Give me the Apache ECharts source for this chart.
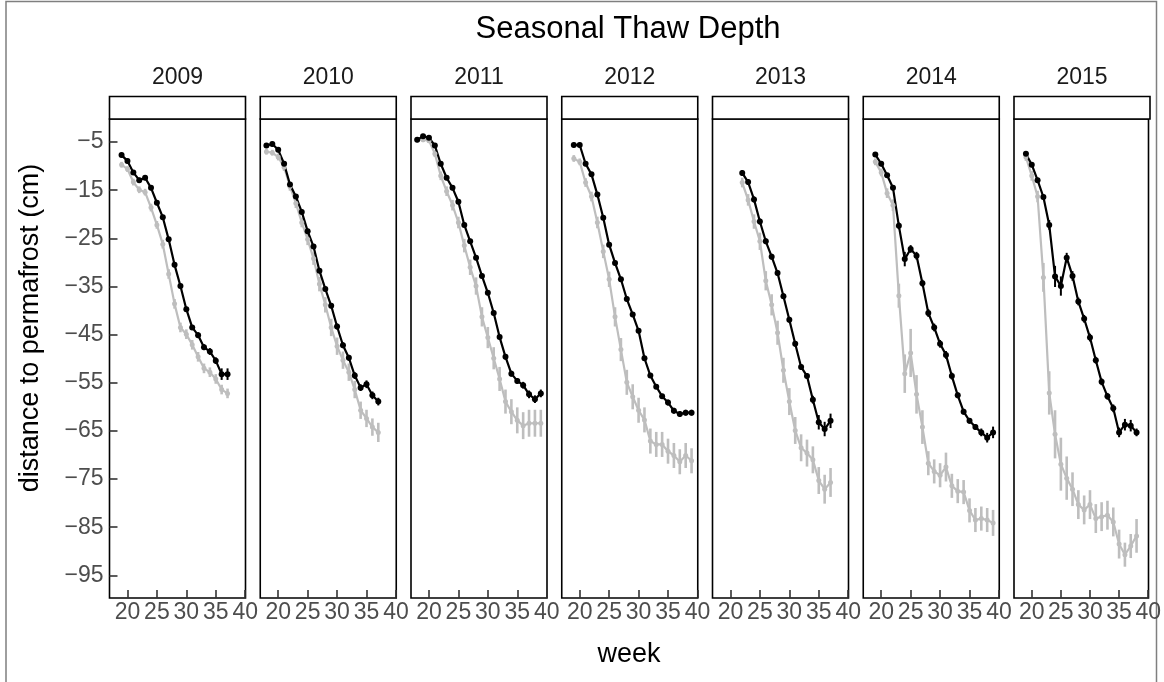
<!DOCTYPE html>
<html><head><meta charset="utf-8">
<script src="https://cdn.jsdelivr.net/npm/echarts@6/dist/echarts.min.js"></script>
<style>html,body{margin:0;padding:0;background:#fff}#c{width:1164px;height:682px}</style>
</head><body><div id="c"></div>
<script>
// ---- data ----
const years = ['2009', '2010', '2011', '2012', '2013', '2014', '2015'];
const xTicks = [20, 25, 30, 35, 40];
const yTicks = [-95, -85, -75, -65, -55, -45, -35, -25, -15, -5];

const weeks2009 = [19,20,21,22,23,24,25,26,27,28,29,30,31,32,33,34,35,36,37];
const black2009 = [-7.7,-8.9,-11.3,-12.9,-12.4,-14.5,-17.6,-20.6,-25.2,-30.5,-34.9,-39.7,-43.5,-45.1,-47.6,-48.5,-50.4,-53.2,-53.2];
const grey2009  = [-9.7,-10.6,-13.3,-14.9,-15.4,-18.6,-22.2,-26.2,-32.4,-38.6,-43.5,-44.9,-47.1,-49.6,-52.0,-52.8,-54.2,-56.4,-57.2];
const blackErr2009 = [0.5,0.5,0.5,0.5,0.5,0.5,0.5,0.5,0.5,0.5,0.5,0.5,0.5,0.6,0.6,0.7,0.7,1.2,1.2];
const greyErr2009  = [0.6,0.6,0.7,0.7,0.7,0.8,0.8,0.9,1,1,1,1,1,1,1,1,1,1,1];

const weeks2010 = [18,19,20,21,22,23,24,25,26,27,28,29,30,31,32,33,34,35,36,37];
const black2010 = [-5.7,-5.4,-6.6,-9.5,-13.8,-16.3,-19.5,-23.5,-26.7,-31.7,-35.5,-39.0,-43.3,-47.2,-49.8,-53.5,-56.0,-55.3,-57.6,-58.9];
const grey2010  = [-7.0,-7.2,-8.1,-10.2,-14.2,-17.7,-21.7,-25.2,-29.2,-34.5,-38.8,-43.5,-47.4,-50.3,-52.8,-56.4,-60.7,-62.4,-64.2,-65.3];
const blackErr2010 = [0.5,0.5,0.5,0.5,0.5,0.5,0.5,0.5,0.5,0.5,0.5,0.5,0.6,0.6,0.6,0.7,0.7,0.8,0.8,0.8];
const greyErr2010  = [0.6,0.6,0.7,0.8,0.9,1,1,1.2,1.3,1.5,1.6,1.8,1.8,1.8,1.8,1.8,1.8,1.8,1.8,2.0];

const weeks2011 = [18,19,20,21,22,23,24,25,26,27,28,29,30,31,32,33,34,35,36,37,38,39];
const black2011 = [-4.5,-3.8,-4.1,-5.7,-9.5,-12.4,-14.5,-17.4,-22.2,-25.6,-29.0,-32.8,-36.3,-40.5,-45.5,-49.6,-53.1,-54.6,-55.5,-57.4,-58.4,-57.2];
const grey2011  = [-4.5,-4.5,-4.7,-7.4,-12.0,-15.2,-18.1,-21.7,-26.5,-31.0,-34.9,-41.3,-45.6,-49.9,-54.2,-58.9,-61.0,-62.8,-63.9,-63.4,-63.4,-63.4];
const blackErr2011 = [0.5,0.5,0.5,0.5,0.5,0.5,0.5,0.5,0.5,0.5,0.5,0.5,0.5,0.5,0.5,0.6,0.6,0.6,0.7,0.8,0.8,0.8];
const greyErr2011  = [0.5,0.5,0.5,0.7,0.9,1,1.1,1.2,1.4,1.6,1.8,2,2.2,2.3,2.5,2.5,2.6,2.7,2.8,2.8,2.8,2.8];

const weeks2012 = [19,20,21,22,23,24,25,26,27,28,29,30,31,32,33,34,35,36,37,38,39];
const black2012 = [-5.6,-5.6,-9.5,-11.7,-15.9,-20.7,-26.3,-30.1,-33.5,-37.6,-40.8,-44.2,-49.9,-53.5,-55.8,-57.8,-59.1,-60.8,-61.5,-61.2,-61.2];
const grey2012  = [-8.4,-9.1,-13.4,-16.3,-21.7,-27.7,-33.5,-41.3,-48.1,-54.9,-57.9,-60.7,-62.7,-67.1,-67.8,-67.8,-69.2,-70.1,-71.4,-70.1,-71.2];
const blackErr2012 = [0.5,0.5,0.5,0.5,0.5,0.5,0.5,0.5,0.5,0.5,0.5,0.5,0.5,0.5,0.5,0.5,0.6,0.6,0.6,0.6,0.6];
const greyErr2012  = [0.7,0.7,0.9,1,1.2,1.4,1.6,2,2.4,2.6,2.6,2.6,2.6,2.6,2.6,2.6,2.6,2.6,2.6,2.6,2.6];

const weeks2013 = [22,23,24,25,26,27,28,29,30,31,32,33,34,35,36,37];
const black2013 = [-11.4,-13.3,-16.9,-21.5,-25.6,-28.8,-32.2,-37.0,-41.9,-46.9,-51.7,-53.6,-58.5,-63.2,-64.6,-62.9];
const grey2013  = [-13.4,-17.0,-21.5,-25.6,-33.8,-38.8,-44.6,-52.4,-58.9,-64.9,-68.5,-69.6,-71.0,-75.3,-77.1,-75.7];
const blackErr2013 = [0.6,0.6,0.6,0.6,0.6,0.6,0.6,0.6,0.6,0.6,0.6,0.6,0.8,1.5,1.5,1.5];
const greyErr2013  = [1,1.2,1.5,1.8,2,2.2,2.5,2.6,2.8,2.8,2.8,2.8,2.8,2.8,3,3];

const weeks2014 = [19,20,21,22,23,24,25,26,27,28,29,30,31,32,33,34,35,36,37,38,39];
const black2014 = [-7.6,-9.5,-11.9,-14.5,-22.4,-29.3,-27.2,-28.6,-34.3,-40.5,-43.5,-46.9,-49.2,-53.6,-57.6,-61.0,-62.9,-64.2,-65.3,-66.4,-65.3];
const grey2014  = [-9.1,-11.3,-15.6,-18.1,-36.9,-53.1,-48.8,-57.4,-64.2,-71.7,-73.4,-74.2,-72.5,-76.4,-77.5,-77.7,-81.5,-83.5,-83.2,-83.5,-84.1];
const blackErr2014 = [0.5,0.5,0.5,0.5,0.7,1.5,0.8,0.8,0.7,0.8,0.8,0.8,0.8,0.7,0.6,0.6,0.6,0.6,0.8,1.0,1.2];
const greyErr2014  = [0.7,0.8,1,1.2,2.5,4,5,4,3.5,2.5,2.5,2.5,3,2.5,2.5,2.5,2.5,2.5,2.5,2.5,2.7];

const weeks2015 = [19,20,21,22,23,24,25,26,27,28,29,30,31,32,33,34,35,36,37,38];
const black2015 = [-7.4,-9.7,-12.9,-16.4,-22.2,-32.9,-34.9,-29.0,-32.8,-38.1,-41.7,-45.6,-50.3,-54.8,-57.8,-60.3,-65.3,-63.7,-63.9,-65.3];
const grey2015  = [-8.1,-12.0,-16.3,-33.1,-57.1,-65.7,-71.9,-74.8,-77.1,-80.3,-81.4,-80.3,-83.2,-82.8,-82.5,-83.9,-88.5,-90.7,-88.9,-86.8];
const blackErr2015 = [0.5,0.5,0.5,0.5,1,2.2,2,1,1,0.8,0.8,0.8,0.7,0.7,0.7,0.8,1,1.2,1.2,0.8];
const greyErr2015  = [0.8,1,1.2,3,4.5,5,5.5,4.5,3.5,3,3,3,3,3,3,3,3,2.5,2.5,3.5];

const allWeeks = [weeks2009, weeks2010, weeks2011, weeks2012, weeks2013, weeks2014, weeks2015];
const allBlack = [black2009, black2010, black2011, black2012, black2013, black2014, black2015];
const allGrey  = [grey2009, grey2010, grey2011, grey2012, grey2013, grey2014, grey2015];
const allBlackErr = [blackErr2009, blackErr2010, blackErr2011, blackErr2012, blackErr2013, blackErr2014, blackErr2015];
const allGreyErr  = [greyErr2009, greyErr2010, greyErr2011, greyErr2012, greyErr2013, greyErr2014, greyErr2015];

// ---- layout ----
const FONT = '"Liberation Sans", Arial, Helvetica, sans-serif';
const LEFT0 = 109.5, STEP = 150.75, PW = 136, TOP = 119, PH = 479;
const STRIP_TOP = 96.5, STRIP_H = 22.5;
const GREY = '#bebebe', BLACK = '#000000';

const grids = [], xAxes = [], yAxes = [], series = [], graphics = [];

function errSeries(i, weeks, vals, errs, color, width) {
  return {
    type: 'custom', xAxisIndex: i, yAxisIndex: i, silent: true,
    data: weeks.map((w, k) => [w, vals[k], errs[k]]),
    encode: { x: 0, y: 1 },
    renderItem: function (params, api) {
      const x = api.value(0), y = api.value(1), e = api.value(2);
      const p1 = api.coord([x, y + e]);
      const p2 = api.coord([x, y - e]);
      return { type: 'line', shape: { x1: p1[0], y1: p1[1], x2: p2[0], y2: p2[1] },
               style: { stroke: color, lineWidth: width } };
    }
  };
}
function lineSeries(i, weeks, vals, color, size) {
  return {
    type: 'line', xAxisIndex: i, yAxisIndex: i, silent: true,
    data: weeks.map((w, k) => [w, vals[k]]),
    symbol: 'circle', symbolSize: size, showSymbol: true,
    lineStyle: { color: color, width: 2.2 }, itemStyle: { color: color }
  };
}

years.forEach((yr, i) => {
  const left = LEFT0 + i * STEP;
  grids.push({ left: left, top: TOP, width: PW, height: PH, show: true,
               borderColor: '#000', borderWidth: 1.6, backgroundColor: 'transparent' });
  xAxes.push({
    type: 'value', gridIndex: i, min: 16.95, max: 40.05,
    splitLine: { show: false }, axisLine: { show: false },
    axisTick: { show: true, inside: true, length: 8, customValues: xTicks,
                lineStyle: { color: '#333', width: 1.6 } },
    axisLabel: { customValues: xTicks, color: '#4d4d4d', fontSize: 23, margin: 3, fontFamily: FONT }
  });
  yAxes.push({
    type: 'value', gridIndex: i, min: -99.7, max: -0.2,
    splitLine: { show: false }, axisLine: { show: false },
    axisTick: i === 0 ? { show: true, inside: true, length: 8, customValues: yTicks,
                          lineStyle: { color: '#333', width: 1.6 } } : { show: false },
    axisLabel: i === 0 ? { customValues: yTicks, color: '#4d4d4d', fontSize: 23, margin: 6, fontFamily: FONT,
                           formatter: v => String(v).replace('-', '\u2212') } : { show: false }
  });
  series.push(errSeries(i, allWeeks[i], allGrey[i], allGreyErr[i], GREY, 2.6));
  series.push(lineSeries(i, allWeeks[i], allGrey[i], GREY, 5));
  series.push(errSeries(i, allWeeks[i], allBlack[i], allBlackErr[i], BLACK, 2));
  series.push(lineSeries(i, allWeeks[i], allBlack[i], BLACK, 6));

  graphics.push({ type: 'rect', shape: { x: left, y: STRIP_TOP, width: PW, height: STRIP_H },
                  style: { fill: '#fff', stroke: '#000', lineWidth: 1.6 } });
  graphics.push({ type: 'text', x: left + PW / 2, y: 77.5,
                  style: { text: yr, fill: '#1a1a1a', font: '23px ' + FONT,
                           textAlign: 'center', textVerticalAlign: 'middle', align: 'center', verticalAlign: 'middle' } });
});

graphics.push({ type: 'rect', shape: { x: 6, y: 1.5, width: 1150.5, height: 720 },
                style: { fill: 'none', stroke: '#7f7f7f', lineWidth: 1.5 } });
graphics.push({ type: 'text', x: 628, y: 29,
                style: { text: 'Seasonal Thaw Depth', fill: '#000', font: '31px ' + FONT,
                         textAlign: 'center', textVerticalAlign: 'middle', align: 'center', verticalAlign: 'middle' } });
graphics.push({ type: 'text', x: 629, y: 655,
                style: { text: 'week', fill: '#000', font: '27px ' + FONT,
                         textAlign: 'center', textVerticalAlign: 'middle', align: 'center', verticalAlign: 'middle' } });
graphics.push({ type: 'text', x: 31, y: 328, rotation: Math.PI / 2,
                style: { text: 'distance to permafrost (cm)', fill: '#000', font: '27px ' + FONT,
                         textAlign: 'center', textVerticalAlign: 'middle', align: 'center', verticalAlign: 'middle' } });

const chart = echarts.init(document.getElementById('c'), null, { renderer: 'canvas' });
chart.setOption({
  animation: false,
  backgroundColor: '#fff',
  grid: grids, xAxis: xAxes, yAxis: yAxes, series: series, graphic: graphics
});
</script></body></html>
